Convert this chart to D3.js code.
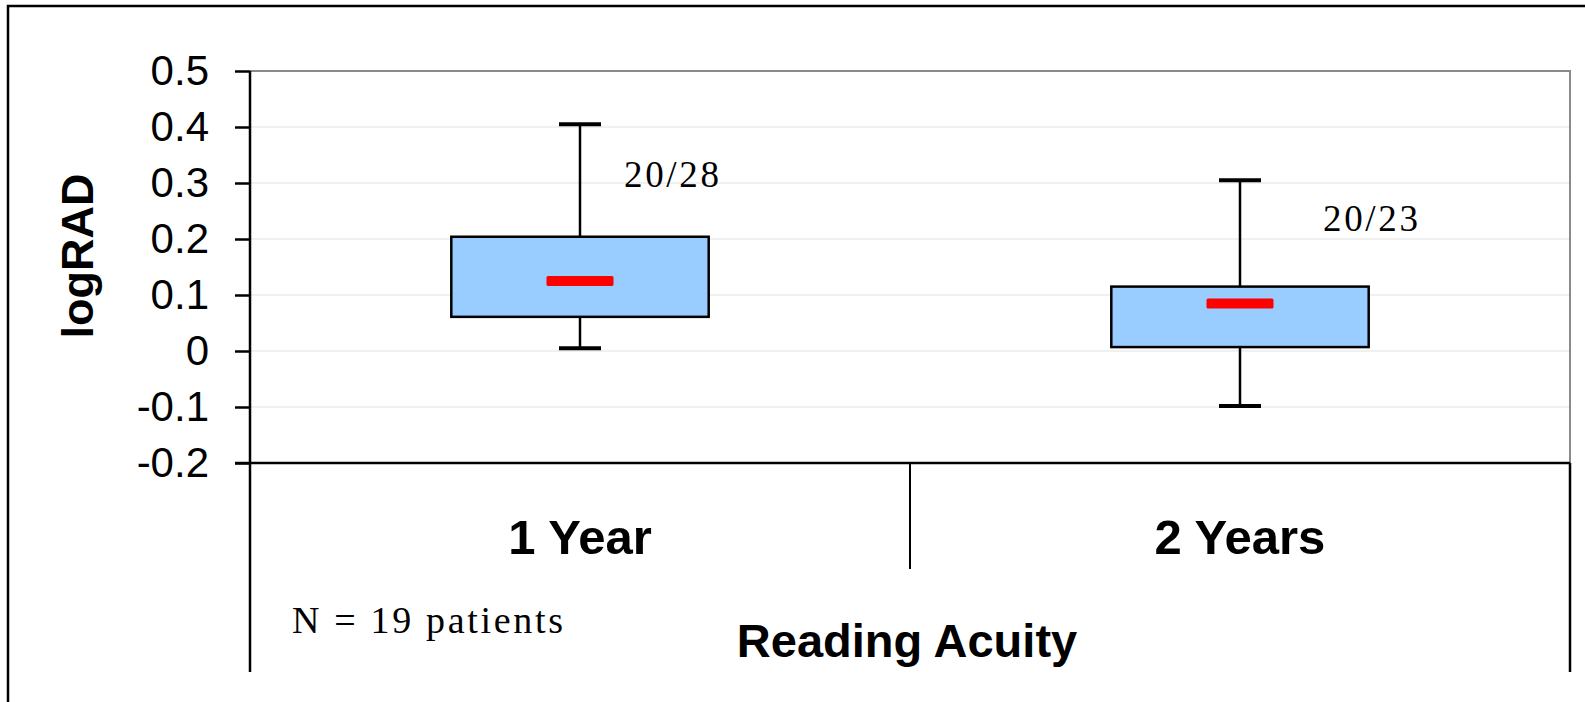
<!DOCTYPE html>
<html>
<head>
<meta charset="utf-8">
<script src="https://cdn.jsdelivr.net/npm/d3@7"></script>
<style>
  html, body { margin: 0; padding: 0; background: #fff; }
  svg { display: block; }
</style>
</head>
<body>
<div id="chart"></div>
<script>
// box plot data, logRAD
const categories = ['1 Year', '2 Years'];
const whiskerHigh = [0.405, 0.305];
const q3 = [0.204, 0.115];
const median = [0.125, 0.085];
const q1 = [0.061, 0.007];
const whiskerLow = [0.005, -0.098];
const snellen = ['20/28', '20/23'];
const yTicks = [0.5, 0.4, 0.3, 0.2, 0.1, 0, -0.1, -0.2];
const yTickLabels = ['0.5', '0.4', '0.3', '0.2', '0.1', '0', '-0.1', '-0.2'];

const width = 1585;
const height = 702;
const margin = { top: 71, right: 15, bottom: 239, left: 250 };
const sans = 'Arial, "Liberation Sans", Helvetica, sans-serif';
const serif = 'Garamond, "Liberation Serif", "Times New Roman", serif';

const svg = d3.select('#chart')
    .append('svg')
    .attr('width', width)
    .attr('height', height);

// outer frame (right and bottom edges run off the picture)
svg.append('rect')
    .attr('x', 8).attr('y', 6)
    .attr('width', width + 20).attr('height', height + 20)
    .attr('fill', 'none')
    .attr('stroke', '#000')
    .attr('stroke-width', 2.5);

const x = d3.scaleBand()
    .domain(categories)
    .range([margin.left, width - margin.right])
    .padding(0);

const y = d3.scaleLinear()
    .domain([-0.2, 0.5])
    .range([height - margin.bottom, margin.top]);

const plotRight = width - margin.right;
const plotBottom = y(-0.2);

// gridlines
svg.append('g')
    .selectAll('line')
    .data(yTicks.filter(d => d !== 0.5 && d !== -0.2))
    .join('line')
    .attr('x1', margin.left).attr('x2', plotRight)
    .attr('y1', d => y(d)).attr('y2', d => y(d))
    .attr('stroke', '#e2e2e2')
    .attr('stroke-width', 1.2);

// plot area top and right border
svg.append('path')
    .attr('d', `M${margin.left},${y(0.5)}H${plotRight}V${plotBottom}`)
    .attr('fill', 'none')
    .attr('stroke', '#8a8a8a')
    .attr('stroke-width', 2);

// y axis
const yAxis = svg.append('g')
    .attr('transform', `translate(${margin.left},0)`)
    .call(d3.axisLeft(y)
        .tickValues(yTicks)
        .tickFormat((d, i) => yTickLabels[i])
        .tickSize(15)
        .tickPadding(26));
yAxis.select('.domain').remove();
yAxis.selectAll('.tick line').attr('stroke', '#000').attr('stroke-width', 2.5);
yAxis.selectAll('.tick text')
    .attr('font-family', sans)
    .attr('font-size', 42)
    .attr('fill', '#000');

// vertical axis line, extended down through category area
svg.append('line')
    .attr('x1', margin.left).attr('x2', margin.left)
    .attr('y1', y(0.5)).attr('y2', 672)
    .attr('stroke', '#000').attr('stroke-width', 2.5);
svg.append('line')
    .attr('x1', plotRight).attr('x2', plotRight)
    .attr('y1', plotBottom).attr('y2', 672)
    .attr('stroke', '#000').attr('stroke-width', 2.5);

// x axis line and category divider
svg.append('line')
    .attr('x1', margin.left - 15).attr('x2', plotRight)
    .attr('y1', plotBottom).attr('y2', plotBottom)
    .attr('stroke', '#000').attr('stroke-width', 2.5);
svg.append('g')
    .selectAll('line')
    .data(categories.slice(1))
    .join('line')
    .attr('x1', d => x(d)).attr('x2', d => x(d))
    .attr('y1', plotBottom).attr('y2', 569)
    .attr('stroke', '#000').attr('stroke-width', 2);

// category labels
svg.append('g')
    .selectAll('text')
    .data(categories)
    .join('text')
    .attr('x', d => x(d) + x.bandwidth() / 2)
    .attr('y', 554)
    .attr('text-anchor', 'middle')
    .attr('font-family', sans)
    .attr('font-weight', 'bold')
    .attr('font-size', 49)
    .text(d => d);

// boxes
const boxW = x.bandwidth() * 0.39;
const capW = 42;
const cx = d => x(d) + x.bandwidth() / 2;

const boxes = svg.append('g')
    .selectAll('g')
    .data(categories)
    .join('g');

boxes.append('line')
    .attr('x1', cx).attr('x2', cx)
    .attr('y1', (d, i) => y(whiskerHigh[i]))
    .attr('y2', (d, i) => y(whiskerLow[i]))
    .attr('stroke', '#000').attr('stroke-width', 2.5);

boxes.append('line')
    .attr('x1', d => cx(d) - capW / 2).attr('x2', d => cx(d) + capW / 2)
    .attr('y1', (d, i) => y(whiskerHigh[i])).attr('y2', (d, i) => y(whiskerHigh[i]))
    .attr('stroke', '#000').attr('stroke-width', 4);

boxes.append('line')
    .attr('x1', d => cx(d) - capW / 2).attr('x2', d => cx(d) + capW / 2)
    .attr('y1', (d, i) => y(whiskerLow[i])).attr('y2', (d, i) => y(whiskerLow[i]))
    .attr('stroke', '#000').attr('stroke-width', 4);

boxes.append('rect')
    .attr('x', d => cx(d) - boxW / 2)
    .attr('y', (d, i) => y(q3[i]))
    .attr('width', boxW)
    .attr('height', (d, i) => y(q1[i]) - y(q3[i]))
    .attr('fill', '#99ccff')
    .attr('stroke', '#000')
    .attr('stroke-width', 2.5);

boxes.append('rect')
    .attr('x', d => cx(d) - 33.5)
    .attr('y', (d, i) => y(median[i]) - 5)
    .attr('width', 67)
    .attr('height', 10)
    .attr('rx', 1.5)
    .attr('fill', '#ff0000');

// Snellen equivalents
const snellenPos = [{ dx: 44, v: 0.293 }, { dx: 83, v: 0.214 }];
svg.append('g')
    .selectAll('text')
    .data(categories)
    .join('text')
    .attr('x', (d, i) => cx(d) + snellenPos[i].dx)
    .attr('y', (d, i) => y(snellenPos[i].v))
    .attr('font-family', serif)
    .attr('font-size', 37)
    .attr('textLength', 95)
    .attr('lengthAdjust', 'spacing')
    .text((d, i) => snellen[i]);

// axis titles
svg.append('text')
    .attr('transform', `translate(93,${(y(0.5) + plotBottom) / 2 - 11}) rotate(-90)`)
    .attr('text-anchor', 'middle')
    .attr('font-family', sans)
    .attr('font-weight', 'bold')
    .attr('font-size', 45)
    .text('logRAD');

svg.append('text')
    .attr('x', 907)
    .attr('y', 657)
    .attr('text-anchor', 'middle')
    .attr('font-family', sans)
    .attr('font-weight', 'bold')
    .attr('font-size', 47)
    .text('Reading Acuity');

svg.append('text')
    .attr('x', 292)
    .attr('y', 633)
    .attr('font-family', serif)
    .attr('font-size', 38)
    .attr('textLength', 271)
    .attr('lengthAdjust', 'spacing')
    .text('N = 19 patients');
</script>
</body>
</html>
